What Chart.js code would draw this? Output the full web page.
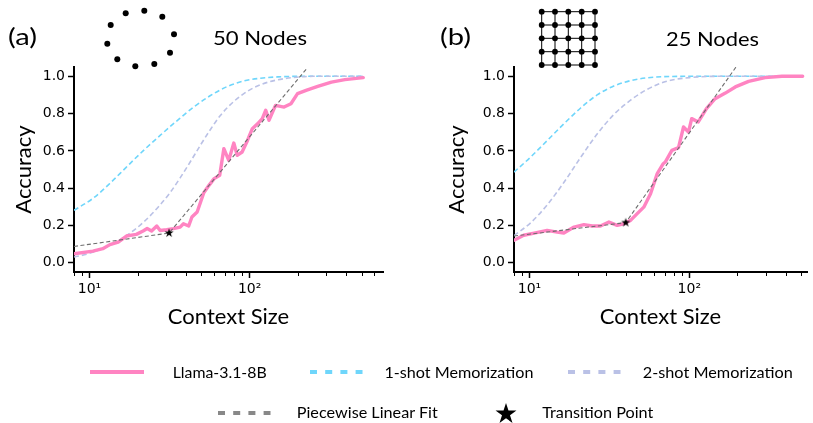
<!DOCTYPE html>
<html><head><meta charset="utf-8">
<script src="https://cdn.jsdelivr.net/npm/chart.js@4.4.1/dist/chart.umd.min.js"></script>
<style>
html,body{margin:0;padding:0;background:#fff;}
body{width:813px;height:423px;position:relative;overflow:hidden;}
canvas{position:absolute;top:0;}
svg{position:absolute;left:0;top:0;pointer-events:none;}
</style></head><body>
<canvas id="cA" width="406" height="340" style="left:0px"></canvas>
<canvas id="cB" width="407" height="340" style="left:406px"></canvas>
<svg id="ov" width="813" height="423" xmlns="http://www.w3.org/2000/svg"></svg>
<script>
// ---------- data: (a) ring, 50 nodes ----------
const ringLlamaX = [8,10.5,12.1,13.4,15.1,17,19.6,21.6,22.9,24.4,26.3,27.6,30.3,33.4,36.8,38.6,41.6,43.6,47,51.7,55.7,60,65,69,74,79.6,83.6,89.7,96.9,103.9,112,119.9,126,132,145,164,181,199,225,266,324,393,512];
const ringLlamaY = [0.048,0.062,0.075,0.097,0.110,0.143,0.152,0.170,0.183,0.170,0.197,0.173,0.177,0.183,0.191,0.209,0.197,0.245,0.272,0.375,0.415,0.451,0.469,0.612,0.549,0.642,0.576,0.594,0.656,0.719,0.745,0.773,0.818,0.764,0.844,0.835,0.853,0.907,0.925,0.946,0.969,0.982,0.993];
const ringOneX = [8,10.5,13.4,17,21.6,27.6,35,44.7,56.9,72.4,92,117,150,200,512];
const ringOneY = [0.281,0.345,0.425,0.513,0.600,0.683,0.760,0.835,0.897,0.945,0.975,0.990,0.997,1.0,1.0];
const ringTwoX = [8,10,12,14,17,21.6,27.6,31.8,36.8,42.5,49.2,56.9,65.6,79.6,96.9,117,142,181,250,512];
const ringTwoY = [0.030,0.050,0.075,0.100,0.145,0.215,0.310,0.375,0.455,0.540,0.630,0.715,0.790,0.865,0.920,0.955,0.977,0.992,1.0,1.0];
const ringFitX = [8,31.4,230];
const ringFitY = [0.087,0.159,1.047];
const ringStarX = [31.4];
const ringStarY = [0.159];

// ---------- data: (b) grid, 25 nodes ----------
const gridLlamaX = [8,9.2,10.7,12.9,14.9,16.4,19,21.9,24.7,27.8,31.4,35.4,38.9,42.9,47.2,51.9,57.2,63,68.7,70.7,77.8,85.6,92,98.8,103.5,113.8,128,145,168,194,235,298,380,512];
const gridLlamaY = [0.120,0.147,0.159,0.173,0.164,0.159,0.191,0.204,0.197,0.197,0.218,0.200,0.209,0.227,0.263,0.298,0.370,0.478,0.531,0.540,0.603,0.617,0.728,0.701,0.773,0.755,0.827,0.880,0.910,0.943,0.973,0.993,1.0,1.0];
const gridOneX = [8,10.2,12.9,16.4,20.9,26.5,33.7,42.9,54.5,69,100,512];
const gridOneY = [0.486,0.568,0.655,0.745,0.830,0.900,0.948,0.977,0.992,0.998,1.0,1.0];
const gridTwoX = [8,10.2,12.9,16.4,20.9,26.5,33.7,42.9,54.5,68.7,78,100,150,512];
const gridTwoY = [0.145,0.215,0.310,0.430,0.565,0.690,0.795,0.872,0.930,0.968,0.980,0.993,1.0,1.0];
const gridFitX = [8,40,196];
const gridFitY = [0.143,0.215,1.05];
const gridStarX = [40];
const gridStarY = [0.215];

// ---------- ticks / labels ----------
const yTicks = [0.0,0.2,0.4,0.6,0.8,1.0];
const xMajor = [10,100];
const xMajorLabels = ['10\u00B9','10\u00B2'];
const seriesNames = ['Llama-3.1-8B','1-shot Memorization','2-shot Memorization','Piecewise Linear Fit','Transition Point'];
const panelTitles = ['50 Nodes','25 Nodes'];
const panelTags = ['(a)','(b)'];

const PINK='#ff84c2', CYAN='#6fd6fb', LAV='#bac1e6', GRAY='#6e6e6e';

function pts(xs,ys){return xs.map((x,i)=>({x:x,y:ys[i]}));}
function isMajor(v){return xMajor.some(m=>Math.abs(m-v)<1e-6);}
function isNice(v){const e=Math.pow(10,Math.floor(Math.log10(v)+1e-9));const m=v/e;return Math.abs(m-Math.round(m))<1e-6;}
function makeStar(R){
  const s=Math.ceil(2*R+2);const c=document.createElement('canvas');c.width=s;c.height=s;
  const g=c.getContext('2d');g.fillStyle='#000';g.beginPath();
  for(let i=0;i<10;i++){const r=i%2?R*0.382:R;const a=-Math.PI/2+i*Math.PI/5;g.lineTo(s/2+r*Math.cos(a),s/2+r*Math.sin(a));}
  g.closePath();g.fill();return c;
}
const starImg=makeStar(4.8);

const minorTicks={id:'minorTicks',afterDraw(chart){
  const s=chart.scales.x,g=chart.ctx;g.save();g.strokeStyle='#000';g.lineWidth=1;
  s.ticks.forEach(t=>{if(!isMajor(t.value)){const px=Math.round(s.getPixelForValue(t.value))+0.5;g.beginPath();g.moveTo(px,s.top);g.lineTo(px,s.top+4);g.stroke();}});
  g.restore();}};

function makeChart(id,d,xMax,yAxisW,padRight,yTitlePad){
  return new Chart(document.getElementById(id),{
    type:'line',
    data:{datasets:[
      {data:pts(d.oneX,d.oneY),borderColor:CYAN,borderWidth:1.6,borderDash:[5,3],pointRadius:0,order:5,cubicInterpolationMode:'monotone'},
      {data:pts(d.twoX,d.twoY),borderColor:LAV,borderWidth:1.6,borderDash:[5,3],pointRadius:0,order:4,cubicInterpolationMode:'monotone'},
      {data:pts(d.llX,d.llY),borderColor:PINK,borderWidth:3.4,pointRadius:0,order:3,borderJoinStyle:'round',borderCapStyle:'round'},
      {data:pts(d.fitX,d.fitY),borderColor:GRAY,borderWidth:1.1,borderDash:[4,2.5],pointRadius:0,order:2},
      {data:pts(d.stX,d.stY),showLine:false,pointStyle:starImg,pointRadius:5,order:1}
    ]},
    options:{
      responsive:false,animation:false,events:[],
      layout:{padding:{left:0,right:padRight,top:67,bottom:0}},
      plugins:{legend:{display:false},tooltip:{enabled:false}},
      elements:{line:{tension:0}},
      scales:{
        x:{type:'logarithmic',min:8,max:xMax,
          afterBuildTicks:(s)=>{s.ticks=s.ticks.filter(t=>isNice(t.value)&&t.value>=8&&t.value<=xMax);},
          afterFit:(s)=>{s.height=68;},
          border:{display:true,color:'#000',width:2},
          grid:{drawOnChartArea:false,drawTicks:true,tickLength:6,tickWidth:1.5,
            tickColor:(c)=>(c.tick&&isMajor(c.tick.value))?'#000':'rgba(0,0,0,0)'},
          ticks:{autoSkip:false,maxRotation:0,minRotation:0,padding:3,color:'#000',
            font:{family:'DejaVu Sans',size:14},
            callback:(v)=>{const i=xMajor.findIndex(m=>Math.abs(m-v)<1e-6);return i>=0?xMajorLabels[i]:'';}},
          title:{display:true,text:'Context Size',color:'#000',font:{family:'Lato',size:22},padding:{top:0,bottom:10}}
        },
        y:{type:'linear',min:-0.05,max:1.05,
          afterBuildTicks:(s)=>{s.ticks=yTicks.map(v=>({value:v}));},
          afterFit:(s)=>{s.width=yAxisW;},
          border:{display:true,color:'#000',width:2},
          grid:{drawOnChartArea:false,drawTicks:true,tickLength:6,tickWidth:1.5,tickColor:'#000'},
          ticks:{padding:3,color:'#000',font:{family:'DejaVu Sans',size:14},callback:(v)=>Number(v).toFixed(1)},
          title:{display:true,text:'Accuracy',color:'#000',font:{family:'Lato',size:22},padding:{top:yTitlePad,bottom:0}}
        }
      }
    },
    plugins:[minorTicks]
  });
}

makeChart('cA',{llX:ringLlamaX,llY:ringLlamaY,oneX:ringOneX,oneY:ringOneY,twoX:ringTwoX,twoY:ringTwoY,fitX:ringFitX,fitY:ringFitY,stX:ringStarX,stY:ringStarY},680,74,23,11);
makeChart('cB',{llX:gridLlamaX,llY:gridLlamaY,oneX:gridOneX,oneY:gridOneY,twoX:gridTwoX,twoY:gridTwoY,fitX:gridFitX,fitY:gridFitY,stX:gridStarX,stY:gridStarY},545,108,5,38);

// ---------- overlay: titles, icons, legend ----------
const NS='http://www.w3.org/2000/svg';
const ov=document.getElementById('ov');
function el(tag,attrs,text){const e=document.createElementNS(NS,tag);for(const k in attrs)e.setAttribute(k,attrs[k]);if(text!==undefined)e.textContent=text;ov.appendChild(e);return e;}
function txt(x,y,s,size,w){el('text',{x:x,y:y,'font-family':'Lato','font-size':size,fill:'#000',textLength:w,lengthAdjust:'spacingAndGlyphs'},s);}

txt(8,45,panelTags[0],23,29);
txt(213,45,panelTitles[0],20,94);
txt(440,45,panelTags[1],23,31);
txt(666,46,panelTitles[1],20,93);

// ring icon (10 nodes)
[[144.3,10.7],[162.3,16.7],[174,34.3],[170,52.7],[154.3,64],[135.3,66.3],[117.3,59.3],[107.3,43.7],[110.7,25],[125.7,13.3]]
  .forEach(p=>el('circle',{cx:p[0],cy:p[1],r:3,fill:'#000'}));
// grid icon (5x5)
const gx=[541.7,555,568.3,581.7,595], gy=[11.7,25,38.3,51.7,65];
gy.forEach(y=>el('line',{x1:gx[0],y1:y,x2:gx[4],y2:y,stroke:'#000','stroke-width':1}));
gx.forEach(x=>el('line',{x1:x,y1:gy[0],x2:x,y2:gy[4],stroke:'#000','stroke-width':1}));
gy.forEach(y=>gx.forEach(x=>el('circle',{cx:x,cy:y,r:2.9,fill:'#000'})));

// legend
const r1=372, r2=413;
el('line',{x1:90,y1:r1,x2:144,y2:r1,stroke:PINK,'stroke-width':4});
txt(172.7,377.7,seriesNames[0],16,94);
el('line',{x1:310,y1:r1,x2:362.5,y2:r1,stroke:CYAN,'stroke-width':4,'stroke-dasharray':'7 8.2'});
txt(384.4,377.7,seriesNames[1],16,149);
el('line',{x1:568,y1:r1,x2:620.5,y2:r1,stroke:LAV,'stroke-width':4,'stroke-dasharray':'7 8.2'});
txt(642.8,377.7,seriesNames[2],16,150);
el('line',{x1:218,y1:r2,x2:270.5,y2:r2,stroke:'#888','stroke-width':4,'stroke-dasharray':'7 8.2'});
txt(296.8,417.7,seriesNames[3],16,141);
(function(){const R=11,cx=506,cy=r2+1;let d='';for(let i=0;i<10;i++){const r=i%2?R*0.382:R;const a=-Math.PI/2+i*Math.PI/5;d+=(i?'L':'M')+(cx+r*Math.cos(a)).toFixed(2)+' '+(cy+r*Math.sin(a)).toFixed(2);}el('path',{d:d+'Z',fill:'#000'});})();
txt(542.3,417.7,seriesNames[4],16,111);
</script>
</body></html>
